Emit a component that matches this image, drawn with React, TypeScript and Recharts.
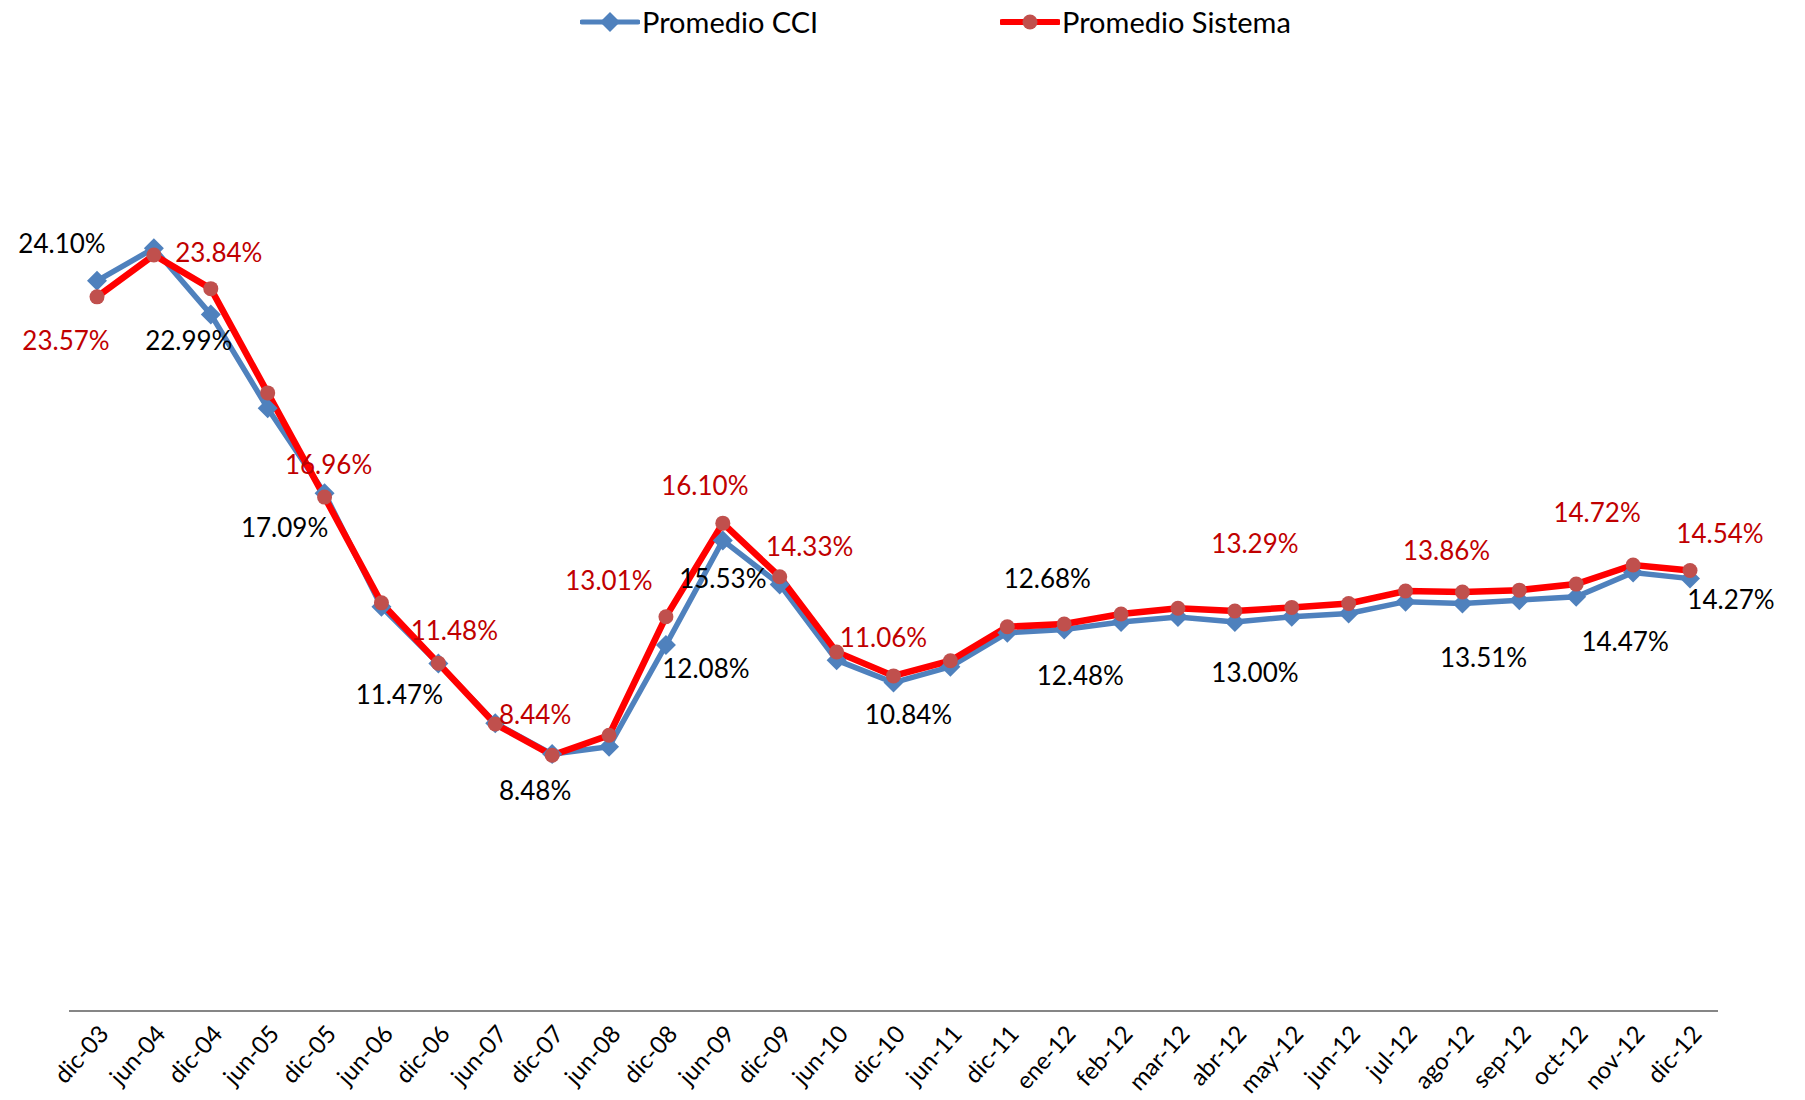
import React from 'react'
import { LineChart, Line, XAxis, YAxis, Legend, LabelList } from 'recharts'

const categories = [
  'dic-03', 'jun-04', 'dic-04', 'jun-05', 'dic-05', 'jun-06', 'dic-06', 'jun-07', 'dic-07', 'jun-08',
  'dic-08', 'jun-09', 'dic-09', 'jun-10', 'dic-10', 'jun-11', 'dic-11', 'ene-12', 'feb-12', 'mar-12',
  'abr-12', 'may-12', 'jun-12', 'jul-12', 'ago-12', 'sep-12', 'oct-12', 'nov-12', 'dic-12',
]

const promedioCCI = [
  24.10, 25.17, 22.99, 19.89, 17.09, 13.34, 11.47, 9.50, 8.48, 8.72,
  12.08, 15.53, 14.08, 11.58, 10.84, 11.36, 12.48, 12.59, 12.84, 13.00,
  12.84, 13.01, 13.12, 13.51, 13.45, 13.56, 13.67, 14.47, 14.27,
]

const promedioSistema = [
  23.57, 24.95, 23.84, 20.40, 16.96, 13.47, 11.48, 9.47, 8.44, 9.10,
  13.01, 16.10, 14.33, 11.85, 11.06, 11.56, 12.68, 12.77, 13.10, 13.29,
  13.20, 13.32, 13.45, 13.86, 13.83, 13.89, 14.09, 14.72, 14.54,
]

const data = categories.map((mes, i) => ({
  mes,
  cci: promedioCCI[i],
  sistema: promedioSistema[i],
}))

const BLUE = '#4F81BD'
const RED = '#FF0000'
const RED_MARK = '#C0504D'
const RED_TEXT = '#C00000'
const FONT = 'Lato, "Open Sans", sans-serif'

// where each shown label sits, relative to its point (dx, dy)
const cciLabelPos: Record<number, [number, number]> = {
  0: [-35, -38], 2: [-22, 26], 4: [-40, 34], 6: [-39, 31], 8: [-17, 36],
  10: [40, 23], 11: [0, 38], 14: [15, 31], 16: [73, 42], 19: [77, 55],
  23: [78, 55], 27: [-8, 68], 28: [41, 20],
}

const sistemaLabelPos: Record<number, [number, number]> = {
  0: [-31, 43], 2: [8, -37], 4: [4, -33], 6: [16, -33], 8: [-17, -41],
  10: [-57, -37], 11: [-18, -38], 12: [30, -31], 14: [-10, -39], 16: [40, -49],
  19: [77, -65], 23: [41, -41], 27: [-36, -53], 28: [30, -37],
}
// the dic-11 label of Sistema is black in the original
const sistemaBlackLabels = [16]

const makeLabel = (pos: Record<number, [number, number]>, color: string, black: number[] = []) =>
  (props: any) => {
    const { index, value } = props
    const o = pos[index]
    if (!o || value == null) return null
    const x = props.x ?? props.viewBox?.x
    const y = props.y ?? props.viewBox?.y
    return (
      <text
        x={x + o[0]}
        y={y + o[1]}
        textAnchor="middle"
        dominantBaseline="central"
        fontFamily={FONT}
        fontSize={26}
        fill={black.includes(index) ? '#000' : color}
      >
        {Number(value).toFixed(2)}%
      </text>
    )
  }

const Diamond = (props: any) => {
  const { cx, cy, index } = props
  if (cx == null || cy == null) return null
  const s = 10
  return (
    <polygon
      key={`d-${index}`}
      points={`${cx},${cy - s} ${cx + s},${cy} ${cx},${cy + s} ${cx - s},${cy}`}
      fill={BLUE}
    />
  )
}

const Circle = (props: any) => {
  const { cx, cy, index } = props
  if (cx == null || cy == null) return null
  return <circle key={`c-${index}`} cx={cx} cy={cy} r={7.5} fill={RED_MARK} />
}

const MonthTick = (props: any) => {
  const { x, y, payload } = props
  return (
    <g transform={`translate(${x + 13},${y + 16})`}>
      <text textAnchor="end" transform="rotate(-48)" fontFamily={FONT} fontSize={24} fill="#000">
        {payload.value}
      </text>
    </g>
  )
}

const renderLegend = () => (
  <div style={{ position: 'relative', width: 1805, height: 50, fontFamily: FONT, fontSize: 29, color: '#000' }}>
    <div style={{ position: 'absolute', left: 580, top: 4, display: 'flex', alignItems: 'center' }}>
      <svg width={60} height={30}>
        <line x1={2} y1={15} x2={58} y2={15} stroke={BLUE} strokeWidth={5} strokeLinecap="round" />
        <polygon points="30,5 40,15 30,25 20,15" fill={BLUE} />
      </svg>
      <span style={{ marginLeft: 2 }}>Promedio CCI</span>
    </div>
    <div style={{ position: 'absolute', left: 1000, top: 4, display: 'flex', alignItems: 'center' }}>
      <svg width={60} height={30}>
        <line x1={2} y1={15} x2={58} y2={15} stroke={RED} strokeWidth={6} strokeLinecap="round" />
        <circle cx={30} cy={15} r={7.5} fill={RED_MARK} />
      </svg>
      <span style={{ marginLeft: 2 }}>Promedio Sistema</span>
    </div>
  </div>
)

export default function App() {
  return (
    <div style={{ position: 'absolute', left: 0, top: 0, background: '#fff' }}>
      <LineChart width={1805} height={1100} data={data} margin={{ top: 102, right: 87, left: 69, bottom: 0 }}>
        <XAxis
          dataKey="mes"
          interval={0}
          height={89}
          padding={{ left: 28, right: 28 }}
          tickLine={false}
          axisLine={{ stroke: '#868686', strokeWidth: 2 }}
          tick={<MonthTick />}
        />
        <YAxis hide domain={[0, 30]} />
        <Legend
          verticalAlign="middle"
          content={renderLegend}
          wrapperStyle={{ top: 0, left: 0, width: 1805, height: 50 }}
        />
        <Line
          dataKey="cci"
          name="Promedio CCI"
          stroke={BLUE}
          strokeWidth={5.5}
          dot={<Diamond />}
          activeDot={false}
          isAnimationActive={false}
        >
          <LabelList dataKey="cci" content={makeLabel(cciLabelPos, '#000')} />
        </Line>
        <Line
          dataKey="sistema"
          name="Promedio Sistema"
          stroke={RED}
          strokeWidth={6.5}
          dot={<Circle />}
          activeDot={false}
          isAnimationActive={false}
        >
          <LabelList dataKey="sistema" content={makeLabel(sistemaLabelPos, RED_TEXT, sistemaBlackLabels)} />
        </Line>
      </LineChart>
    </div>
  )
}
